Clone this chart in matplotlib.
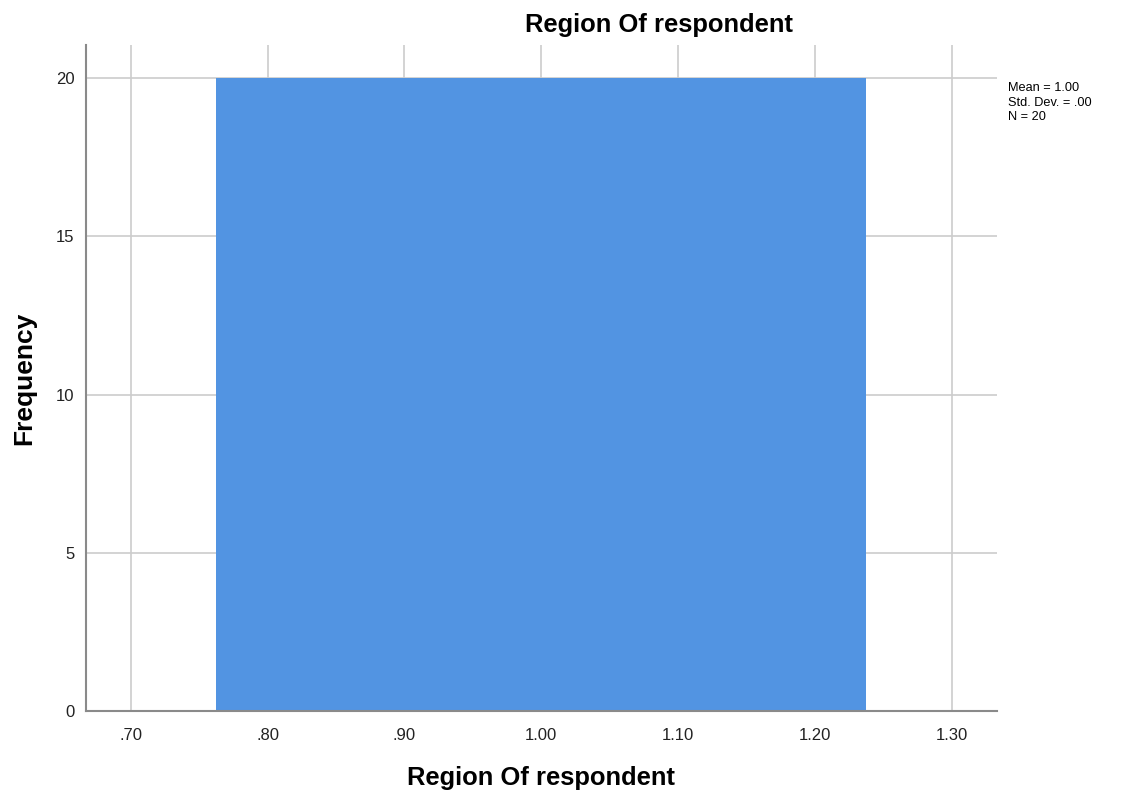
import matplotlib
matplotlib.use("Agg")
import matplotlib.pyplot as plt

plt.rcParams['font.family'] = ['Liberation Sans', 'DejaVu Sans']

# Data
bin_centers = [1.00]
frequencies = [20]
bin_width = 0.4746
x_ticks = [0.70, 0.80, 0.90, 1.00, 1.10, 1.20, 1.30]
x_tick_labels = ['.70', '.80', '.90', '1.00', '1.10', '1.20', '1.30']
y_ticks = [0, 5, 10, 15, 20]
stats_text = "Mean = 1.00\nStd. Dev. = .00\nN = 20"
title = "Region Of respondent"
xlabel = "Region Of respondent"
ylabel = "Frequency"

fig = plt.figure(figsize=(11.29, 7.98), dpi=100)
ax = fig.add_axes([85.5/1129, 1-711/798, (997-85.5)/1129, (711-45)/798])

ax.bar(bin_centers, frequencies, width=bin_width, color='#5294E2', edgecolor='none', zorder=2)

ax.set_xlim(0.667, 1.333)
ax.set_ylim(0, 21.05)
ax.set_xticks(x_ticks)
ax.set_xticklabels(x_tick_labels)
ax.set_yticks(y_ticks)
ax.grid(True, color='#CCCCCC', linewidth=1.2, zorder=0)
ax.set_axisbelow(True)
for s in ['top', 'right']:
    ax.spines[s].set_visible(False)
for s in ['left', 'bottom']:
    ax.spines[s].set_color('#8A8A8A')
    ax.spines[s].set_linewidth(1.5)
ax.tick_params(axis='both', length=0, labelsize=12, colors='#222222')
ax.tick_params(axis='y', pad=8)
ax.tick_params(axis='x', pad=12)

fig.text(659/1129, 1-25/798, title, ha='center', va='center', fontsize=18.4, fontweight='bold')
fig.text(541/1129, 1-778/798, xlabel, ha='center', va='center', fontsize=18.4, fontweight='bold')
fig.text(24/1129, 1-378/798, ylabel, ha='center', va='center', fontsize=19, fontweight='bold', rotation=90)
fig.text(1008/1129, 1-82/798, stats_text, ha='left', va='top', fontsize=9.2, linespacing=1.3)

fig.savefig('out.png', dpi=100)
